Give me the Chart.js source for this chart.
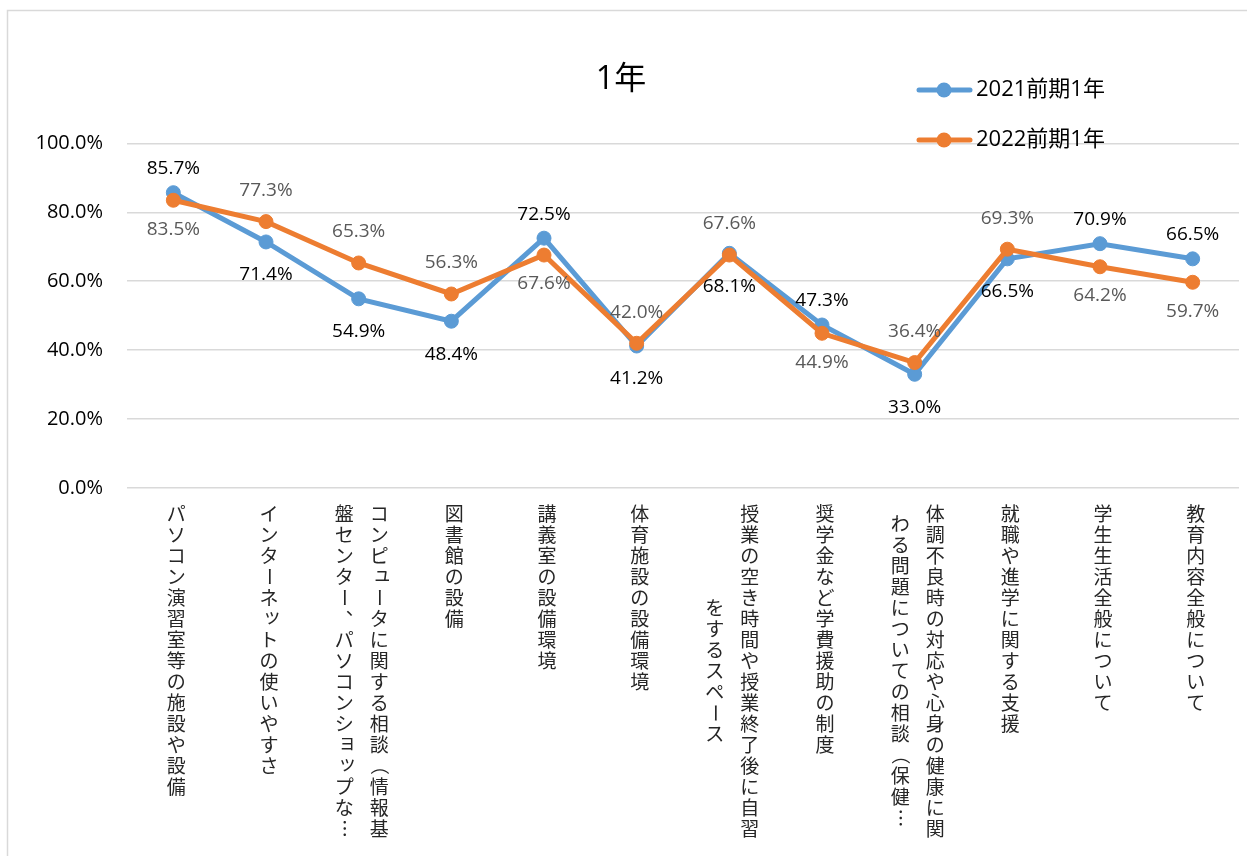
<!DOCTYPE html>
<html>
<head>
<meta charset="utf-8">
<script src="https://cdn.jsdelivr.net/npm/chart.js@4.4.0/dist/chart.umd.min.js"></script>
<style>
html, body { margin: 0; padding: 0; background: #fff; }
canvas { display: block; }
</style>
</head>
<body>
<canvas id="chart_year1" width="1247" height="856"></canvas>
<script>
// 設問カテゴリ (16文字で折り返し)
var categories = [
    'パソコン演習室等の施設や設備',
    'インターネットの使いやすさ',
    'コンピュータに関する相談（情報基盤センター、パソコンショップな…',
    '図書館の設備',
    '講義室の設備環境',
    '体育施設の設備環境',
    '授業の空き時間や授業終了後に自習をするスペース',
    '奨学金など学費援助の制度',
    '体調不良時の対応や心身の健康に関わる問題についての相談（保健…',
    '就職や進学に関する支援',
    '学生生活全般について',
    '教育内容全般について'
]
var seriesNames = ['2021前期1年', '2022前期1年']
var values2021 = [85.7, 71.4, 54.9, 48.4, 72.5, 41.2, 68.1, 47.3, 33.0, 66.5, 70.9, 66.5]
var values2022 = [83.5, 77.3, 65.3, 56.3, 67.6, 42.0, 67.6, 44.9, 36.4, 69.3, 64.2, 59.7]
var yTicks = [0, 20, 40, 60, 80, 100]

var cores = ['#5B9BD5', '#ED7D31']
var numFont = '"Open Sans", "Noto Sans CJK JP", sans-serif'

// label side for each point (style only)
var side2021 = ['up', 'down', 'down', 'down', 'up', 'down', 'down', 'up', 'down', 'down', 'up', 'up']
var side2022 = ['down', 'up', 'up', 'up', 'down', 'up', 'up', 'down', 'up', 'up', 'down', 'down']

var rotateChars = 'ー（）…〜－'
var smallChars = 'ァィゥェォッャュョヮぁぃぅぇぉっゃゅょ'
var punctChars = '、。'

var frame = {
    id: 'frame',
    beforeDraw: function(chart) {
        var ctx = chart.ctx
        ctx.save()
        ctx.strokeStyle = '#d9d9d9'
        ctx.lineWidth = 1.5
        ctx.strokeRect(7.5, 10.5, 1300, 900)
        ctx.restore()
    }
}

var verticalLabels = {
    id: 'verticalLabels',
    afterDraw: function(chart) {
        var ctx = chart.ctx
        var xs = chart.scales.x
        var top = chart.chartArea.bottom + 15
        var step = 21, colGap = 35, perCol = 16
        ctx.save()
        ctx.font = '19px "Noto Sans CJK JP", sans-serif'
        ctx.fillStyle = '#262626'
        ctx.textAlign = 'center'
        ctx.textBaseline = 'middle'
        categories.forEach(function(label, i) {
            var chars = Array.from(label)
            var cols = []
            for (var k = 0; k < chars.length; k += perCol) cols.push(chars.slice(k, k + perCol))
            var longest = Math.max.apply(null, cols.map(function(c) { return c.length }))
            var x0 = xs.getPixelForValue(i) + 3 + (cols.length - 1) * colGap / 2
            cols.forEach(function(col, c) {
                var x = x0 - c * colGap
                var y0 = top + (longest - col.length) * step / 2 + step / 2
                col.forEach(function(ch, j) {
                    ctx.save()
                    ctx.translate(x, y0 + j * step)
                    if (rotateChars.indexOf(ch) >= 0) ctx.rotate(Math.PI / 2)
                    else if (smallChars.indexOf(ch) >= 0) ctx.translate(3, -3)
                    else if (punctChars.indexOf(ch) >= 0) ctx.translate(11, -11)
                    ctx.fillText(ch, 0, 0)
                    ctx.restore()
                })
            })
        })
        ctx.restore()
    }
}

var valueLabels = {
    id: 'valueLabels',
    afterDatasetsDraw: function(chart) {
        var ctx = chart.ctx
        ctx.save()
        ctx.font = '19px ' + numFont
        ctx.textAlign = 'center'
        ctx.textBaseline = 'middle'
        chart.data.datasets.forEach(function(ds, di) {
            var meta = chart.getDatasetMeta(di)
            meta.data.forEach(function(pt, i) {
                var up = ds.labelSide[i] === 'up'
                ctx.fillStyle = ds.labelColor
                ctx.fillText(ds.data[i].toFixed(1) + '%', pt.x, pt.y + (up ? ds.labelUp : ds.labelDown))
            })
        })
        ctx.restore()
    }
}

var sideLegend = {
    id: 'sideLegend',
    afterDraw: function(chart) {
        var ctx = chart.ctx
        ctx.save()
        chart.data.datasets.forEach(function(ds, di) {
            var y = 90 + di * 50
            ctx.strokeStyle = ds.borderColor
            ctx.lineWidth = 5
            ctx.lineCap = 'round'
            ctx.beginPath()
            ctx.moveTo(919, y)
            ctx.lineTo(970, y)
            ctx.stroke()
            ctx.fillStyle = ds.borderColor
            ctx.beginPath()
            ctx.arc(944, y, 7.5, 0, Math.PI * 2)
            ctx.fill()
            ctx.fillStyle = '#000'
            ctx.font = '22px ' + numFont
            ctx.textAlign = 'left'
            ctx.textBaseline = 'middle'
            ctx.fillText(ds.label, 976, y)
        })
        ctx.restore()
    }
}

var ctx = document.getElementById('chart_year1')

var chartYear1 = new Chart(ctx, {
    type: 'line',
    data: {
        labels: categories,
        datasets: [
            {
                label: seriesNames[0],
                data: values2021,
                borderColor: cores[0],
                backgroundColor: cores[0],
                borderWidth: 5,
                pointRadius: 7,
                pointBorderWidth: 1,
                pointBackgroundColor: cores[0],
                fill: false,
                order: 1,
                labelSide: side2021,
                labelColor: '#000',
                labelUp: -24,
                labelDown: 33
            },
            {
                label: seriesNames[1],
                data: values2022,
                borderColor: cores[1],
                backgroundColor: cores[1],
                borderWidth: 5,
                pointRadius: 7,
                pointBorderWidth: 1,
                pointBackgroundColor: cores[1],
                fill: false,
                order: 0,
                labelSide: side2022,
                labelColor: '#595959',
                labelUp: -31,
                labelDown: 29
            }
        ]
    },
    options: {
        responsive: false,
        animation: false,
        layout: {
            padding: { left: 0, right: 5, top: 0, bottom: 0 }
        },
        plugins: {
            legend: { display: false },
            tooltip: { enabled: false },
            title: {
                display: true,
                text: '1年',
                color: '#000',
                font: { family: numFont, size: 32, weight: 'normal' },
                padding: { top: 61, bottom: 44 }
            }
        },
        scales: {
            x: {
                offset: true,
                grid: { display: false },
                border: { display: false },
                ticks: { display: false },
                afterFit: function(scale) { scale.height = 368 }
            },
            y: {
                min: 0,
                max: 100,
                border: { display: false },
                grid: { color: '#d9d9d9', lineWidth: 1.5, drawTicks: false },
                afterBuildTicks: function(scale) {
                    scale.ticks = yTicks.map(function(v) { return { value: v } })
                },
                afterFit: function(scale) { scale.width = 127 },
                ticks: {
                    padding: 24,
                    color: '#000',
                    font: { family: numFont, size: 20 },
                    callback: function(value) {
                        return value.toFixed(1) + '%'
                    }
                }
            }
        }
    },
    plugins: [frame, valueLabels, verticalLabels, sideLegend]
});
</script>
</body>
</html>
